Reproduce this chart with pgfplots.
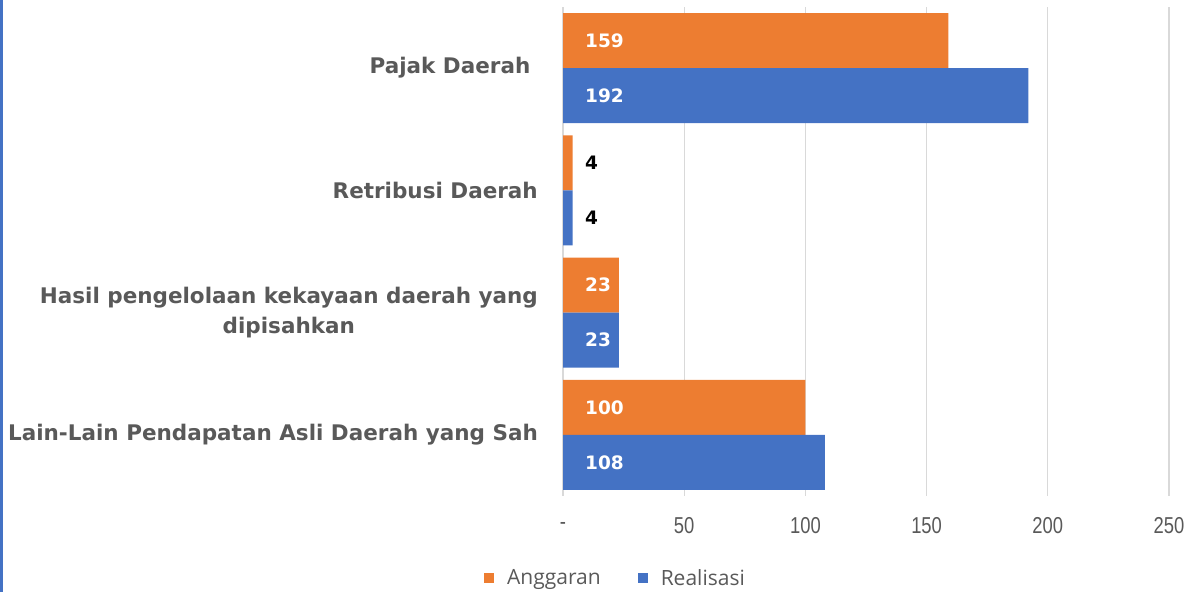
\documentclass[border=0pt]{standalone}
\usepackage{pgfplots}
\pgfplotsset{compat=1.18}
\usepackage{fontspec}
\setmainfont{DejaVu Sans}
\newfontfamily\tickfont[FakeStretch=0.8]{Liberation Sans}
\newfontfamily\legfont{Open Sans}
\definecolor{anggaran}{HTML}{ED7D31}
\definecolor{realisasi}{HTML}{4472C4}
\definecolor{txt}{HTML}{595959}
\definecolor{gridc}{HTML}{D9D9D9}
\pgfplotstableread{
y val
0 100
1 23
2 4
3 159
}\anggarandata
\pgfplotstableread{
y val
0 108
1 23
2 4
3 192
}\realisasidata
\begin{document}
\begin{tikzpicture}
\useasboundingbox (0,0) rectangle (1193bp,592bp);
\fill[realisasi] (0,0) rectangle (3bp,592bp);
\begin{axis}[
  at={(563bp,96bp)}, anchor=south west,
  scale only axis, width=606bp, height=489bp,
  xbar, bar width=0.45,
  enlargelimits=false,
  xmin=0, xmax=250, ymin=-0.5, ymax=3.5,
  /pgf/number format/assume math mode=true,
  xtick={0,50,100,150,200,250},
  xticklabels={-,50,100,150,200,250},
  ytick={0,1,2,3},
  yticklabels={Lain-Lain Pendapatan Asli Daerah yang Sah,{Hasil pengelolaan kekayaan daerah yang\\dipisahkan},Retribusi Daerah,Pajak Daerah\ },
  axis line style={draw=none},
  major tick length=0pt,
  xmajorgrids, grid style={draw=gridc, line width=1.3bp},
  xticklabel style={font=\tickfont\fontsize{23bp}{27bp}\selectfont, text=txt, anchor=center, inner sep=0pt, yshift=-30bp},
  yticklabel style={font=\bfseries\fontsize{21.5bp}{30bp}\selectfont, text=txt, align=center, anchor=east, inner sep=0pt, xshift=-25bp},
  visualization depends on={rawx \as \xval},
  nodes near coords={\ifdim\xval pt<10pt \color{black}\else\color{white}\fi\pgfmathprintnumber{\pgfplotspointmeta}},
  nodes near coords style={anchor=west, inner sep=0pt, xshift={22bp-\xval*2.424bp}, font=\bfseries\fontsize{18.5bp}{22bp}\selectfont},
  legend columns=2,
  legend style={draw=none, fill=none, at={(0.085,-0.1677)}, anchor=center,
    font=\legfont\fontsize{21bp}{25bp}\selectfont, text=txt,
    /tikz/every odd column/.append style={column sep=13bp},
    /tikz/every even column/.append style={column sep=37bp},
    nodes={inner sep=0pt}},
  legend image code/.code={\draw[#1, draw=none] (0bp,-5bp) rectangle (10bp,5bp);},
]
\addplot[fill=anggaran, draw=none, bar shift=0.225] table[x=val, y=y] {\anggarandata};
\addlegendentry{Anggaran}
\addplot[fill=realisasi, draw=none, bar shift=-0.225] table[x=val, y=y] {\realisasidata};
\addlegendentry{Realisasi}
\end{axis}
\end{tikzpicture}
\end{document}
